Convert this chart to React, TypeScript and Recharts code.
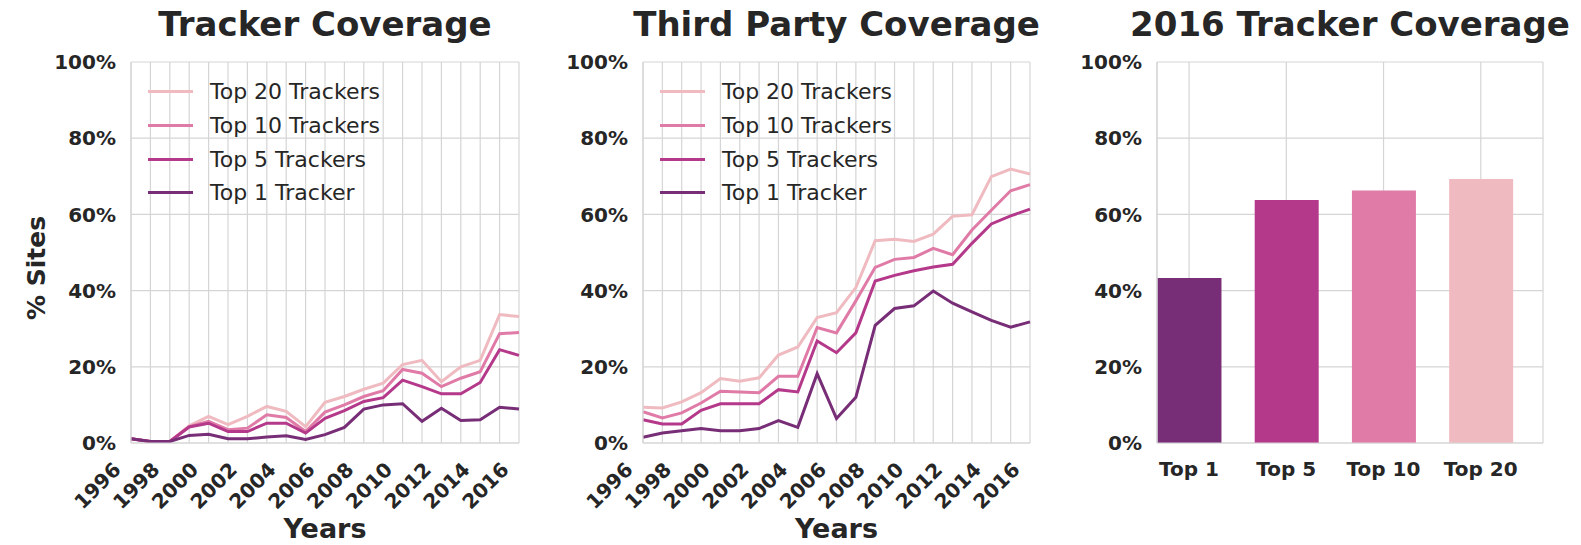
import React from "react";
import {
  LineChart,
  Line,
  BarChart,
  Bar,
  Cell,
  XAxis,
  YAxis,
  CartesianGrid,
} from "recharts";

// Years on the x axis of both line charts
const YEARS = [
  1996, 1997, 1998, 1999, 2000, 2001, 2002, 2003, 2004, 2005, 2006, 2007,
  2008, 2009, 2010, 2011, 2012, 2013, 2014, 2015, 2016,
];
const YEAR_LABELS = [1996, 1998, 2000, 2002, 2004, 2006, 2008, 2010, 2012, 2014, 2016];
const PCT_TICKS = [0, 20, 40, 60, 80, 100];

// Tracker coverage (% of sites)
const TRACKER_TOP1 = [1.1, 0.4, 0.4, 2.0, 2.3, 1.1, 1.1, 1.6, 1.9, 0.9, 2.2, 4.1, 8.9, 10.0, 10.3, 5.7, 9.1, 5.9, 6.1, 9.4, 8.9];
const TRACKER_TOP5 = [1.1, 0.4, 0.4, 4.2, 5.2, 3.0, 3.0, 5.2, 5.2, 2.6, 6.5, 8.5, 10.9, 11.9, 16.5, 14.8, 12.9, 12.9, 15.9, 24.5, 23.0];
const TRACKER_TOP10 = [1.1, 0.4, 0.4, 4.3, 5.7, 3.5, 3.9, 7.4, 6.7, 3.0, 8.1, 10.0, 12.2, 13.7, 19.3, 18.3, 14.8, 17.0, 18.7, 28.7, 29.0];
const TRACKER_TOP20 = [1.1, 0.4, 0.4, 4.5, 7.0, 4.8, 7.0, 9.6, 8.3, 4.3, 10.7, 12.2, 14.1, 15.7, 20.6, 21.7, 16.1, 20.0, 21.7, 33.7, 33.2];

// Third party coverage (% of sites)
const THIRD_TOP1 = [1.5, 2.6, 3.2, 3.8, 3.2, 3.2, 3.8, 5.9, 4.1, 18.2, 6.4, 12.0, 30.9, 35.3, 36.0, 39.9, 36.7, 34.4, 32.2, 30.4, 31.8];
const THIRD_TOP5 = [6.1, 5.0, 5.0, 8.6, 10.3, 10.3, 10.3, 14.0, 13.4, 26.8, 23.7, 28.9, 42.5, 44.0, 45.2, 46.2, 46.9, 52.4, 57.5, 59.6, 61.4];
const THIRD_TOP10 = [8.2, 6.6, 7.9, 10.5, 13.6, 13.4, 13.2, 17.5, 17.5, 30.3, 28.9, 37.3, 46.1, 48.2, 48.7, 51.1, 49.4, 55.9, 61.1, 66.2, 67.8];
const THIRD_TOP20 = [9.4, 9.2, 10.8, 13.2, 16.9, 16.2, 17.1, 23.1, 25.2, 32.9, 34.2, 40.8, 53.1, 53.5, 52.9, 54.8, 59.5, 59.9, 69.9, 71.9, 70.6];

// 2016 snapshot
const BAR_LABELS = ["Top 1", "Top 5", "Top 10", "Top 20"];
const BAR_VALUES = [43.3, 63.8, 66.3, 69.3];

const COLORS = {
  top1: "#782D77",
  top5: "#B5398A",
  top10: "#E07BA7",
  top20: "#EFBBC1",
};
const BAR_COLORS = [COLORS.top1, COLORS.top5, COLORS.top10, COLORS.top20];

// drawn back to front, same order as the legend
const SERIES = [
  { key: "top20", name: "Top 20 Trackers", color: COLORS.top20 },
  { key: "top10", name: "Top 10 Trackers", color: COLORS.top10 },
  { key: "top5", name: "Top 5 Trackers", color: COLORS.top5 },
  { key: "top1", name: "Top 1 Tracker", color: COLORS.top1 },
];

const FONT = "'DejaVu Sans', sans-serif";
const TEXT = "#262626";
const GRID = "#d5d5d5";
const LINE_W = 3;

const HEIGHT = 545;
const PLOT_TOP = 62;
const PLOT_BOTTOM = 443;
const AXIS_W = 100;
const X_AXIS_H = 30;
const RIGHT_PAD = 20;

const PANELS = {
  tracker: { left: 131, right: 519 },
  third: { left: 643, right: 1030 },
  bars: { left: 1157, right: 1543 },
};

function buildRows(top1: number[], top5: number[], top10: number[], top20: number[]) {
  return YEARS.map((year, i) => ({
    year,
    top1: top1[i],
    top5: top5[i],
    top10: top10[i],
    top20: top20[i],
  }));
}

const trackerRows = buildRows(TRACKER_TOP1, TRACKER_TOP5, TRACKER_TOP10, TRACKER_TOP20);
const thirdRows = buildRows(THIRD_TOP1, THIRD_TOP5, THIRD_TOP10, THIRD_TOP20);
const barRows = BAR_LABELS.map((label, i) => ({ pos: i, label, value: BAR_VALUES[i] }));

const pctTick = { fill: TEXT, fontSize: 20, fontWeight: 700, fontFamily: FONT };

function YearTick(props: any) {
  const { x, y, payload } = props;
  if (!YEAR_LABELS.includes(payload.value)) return <g />;
  const ax = x - 9;
  const ay = y + 28;
  return (
    <text
      x={ax}
      y={ay}
      transform={`rotate(-45 ${ax} ${ay})`}
      textAnchor="end"
      fill={TEXT}
      fontSize={20}
      fontWeight={700}
      fontFamily={FONT}
    >
      {payload.value}
    </text>
  );
}

function BarTick(props: any) {
  const { x, y, payload } = props;
  return (
    <text
      x={x}
      y={y + 33}
      textAnchor="middle"
      fill={TEXT}
      fontSize={20}
      fontWeight={700}
      fontFamily={FONT}
    >
      {BAR_LABELS[payload.value]}
    </text>
  );
}

function chartBox(panel: { left: number; right: number }) {
  const width = AXIS_W + (panel.right - panel.left) + RIGHT_PAD;
  return {
    left: panel.left - AXIS_W,
    width,
    margin: {
      top: PLOT_TOP,
      right: RIGHT_PAD,
      left: 0,
      bottom: HEIGHT - PLOT_BOTTOM - X_AXIS_H,
    },
  };
}

function SeriesLegend({ panel }: { panel: { left: number } }) {
  return (
    <div
      style={{
        position: "absolute",
        left: panel.left + 17,
        top: 75,
        fontFamily: FONT,
        fontSize: 22,
        color: TEXT,
      }}
    >
      {SERIES.map((s) => (
        <div
          key={s.key}
          style={{ display: "flex", alignItems: "center", height: 33.7 }}
        >
          <span
            style={{
              display: "inline-block",
              width: 45,
              height: LINE_W,
              background: s.color,
              marginRight: 17,
            }}
          />
          <span>{s.name}</span>
        </div>
      ))}
    </div>
  );
}

function CoverageLines({
  rows,
  panel,
}: {
  rows: ReturnType<typeof buildRows>;
  panel: { left: number; right: number };
}) {
  const box = chartBox(panel);
  return (
    <div style={{ position: "absolute", left: box.left, top: 0 }}>
      <LineChart width={box.width} height={HEIGHT} data={rows} margin={box.margin}>
        <CartesianGrid stroke={GRID} strokeWidth={1.2} />
        <XAxis
          dataKey="year"
          type="number"
          domain={[YEARS[0], YEARS[YEARS.length - 1]]}
          ticks={YEARS}
          interval={0}
          height={X_AXIS_H}
          tickSize={0}
          tickMargin={0}
          axisLine={{ stroke: GRID, strokeWidth: 1.2 }}
          tick={<YearTick />}
        />
        <YAxis
          domain={[0, 100]}
          ticks={PCT_TICKS}
          width={AXIS_W}
          tickLine={false}
          tickMargin={9}
          axisLine={{ stroke: GRID, strokeWidth: 1.2 }}
          tick={pctTick}
          tickFormatter={(v: number) => `${v}%`}
        />
        {SERIES.map((s) => (
          <Line
            key={s.key}
            dataKey={s.key}
            type="linear"
            stroke={s.color}
            strokeWidth={LINE_W}
            dot={false}
            isAnimationActive={false}
          />
        ))}
      </LineChart>
    </div>
  );
}

function SnapshotBars() {
  const panel = PANELS.bars;
  const box = chartBox(panel);
  return (
    <div style={{ position: "absolute", left: box.left, top: 0 }}>
      <BarChart width={box.width} height={HEIGHT} data={barRows} margin={box.margin}>
        <CartesianGrid stroke={GRID} strokeWidth={1.2} />
        <XAxis
          dataKey="pos"
          type="number"
          domain={[-0.33, 3.64]}
          ticks={[0, 1, 2, 3]}
          interval={0}
          height={X_AXIS_H}
          tickSize={0}
          tickMargin={0}
          axisLine={{ stroke: GRID, strokeWidth: 1.2 }}
          tick={<BarTick />}
        />
        <YAxis
          domain={[0, 100]}
          ticks={PCT_TICKS}
          width={AXIS_W}
          tickLine={false}
          tickMargin={9}
          axisLine={{ stroke: GRID, strokeWidth: 1.2 }}
          tick={pctTick}
          tickFormatter={(v: number) => `${v}%`}
        />
        <YAxis
          yAxisId="right"
          orientation="right"
          domain={[0, 100]}
          width={0}
          tick={false}
          tickLine={false}
          axisLine={{ stroke: GRID, strokeWidth: 1.2 }}
        />
        <Bar dataKey="value" barSize={64} isAnimationActive={false}>
          {barRows.map((r, i) => (
            <Cell key={r.label} fill={BAR_COLORS[i]} />
          ))}
        </Bar>
      </BarChart>
    </div>
  );
}

function center(panel: { left: number; right: number }) {
  return (panel.left + panel.right) / 2;
}

export default function App() {
  return (
    <div
      style={{
        position: "absolute",
        left: 0,
        top: 0,
        width: 1581,
        height: HEIGHT,
        background: "#fff",
        overflow: "hidden",
      }}
    >
      <CoverageLines rows={trackerRows} panel={PANELS.tracker} />
      <CoverageLines rows={thirdRows} panel={PANELS.third} />
      <SnapshotBars />
      <SeriesLegend panel={PANELS.tracker} />
      <SeriesLegend panel={PANELS.third} />

      {/* titles and axis names */}
      <svg
        width={1581}
        height={HEIGHT}
        style={{ position: "absolute", left: 0, top: 0, pointerEvents: "none" }}
      >
        <g fontFamily={FONT} fontWeight={700} fill={TEXT} textAnchor="middle">
          <text x={center(PANELS.tracker)} y={36} fontSize={34}>
            Tracker Coverage
          </text>
          <text x={center(PANELS.third)} y={36} fontSize={34}>
            Third Party Coverage
          </text>
          <text x={center(PANELS.bars)} y={36} fontSize={34}>
            2016 Tracker Coverage
          </text>
          <text x={center(PANELS.tracker)} y={538} fontSize={27}>
            Years
          </text>
          <text x={center(PANELS.third)} y={538} fontSize={27}>
            Years
          </text>
          <text x={45} y={268} fontSize={25} transform="rotate(-90 45 268)">
            % Sites
          </text>
        </g>
      </svg>
    </div>
  );
}
